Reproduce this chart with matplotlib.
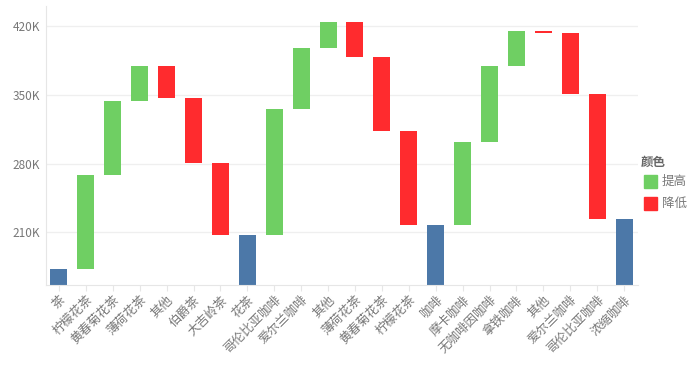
import numpy as np
import matplotlib.pyplot as plt
from matplotlib.patches import Rectangle

plt.rcParams['font.family'] = ['Noto Sans CJK SC', 'DejaVu Sans']

# categories (x axis) and values in K
categories = ['茶', '柠檬花茶', '黄春菊花茶', '薄荷花茶', '其他', '伯爵茶', '大吉岭茶',
              '花茶', '哥伦比亚咖啡', '爱尔兰咖啡', '其他', '薄荷花茶', '黄春菊花茶', '柠檬花茶',
              '咖啡', '摩卡咖啡', '无咖啡因咖啡', '拿铁咖啡', '其他', '爱尔兰咖啡', '哥伦比亚咖啡',
              '浓缩咖啡']
# change per step; totals carry their total value
amounts = [172.6, 95.8, 75.5, 35.7, -32.7, -66.2, -73.4,
           207.3, 128.4, 62.2, 26.5, -35.7, -75.4, -95.8,
           217.5, 84.6, 77.5, 35.6, -2.0, -62.2, -127.4,
           223.6]
is_total = [True, False, False, False, False, False, False,
            True, False, False, False, False, False, False,
            True, False, False, False, False, False, False,
            True]

c_total = '#4c78a8'
c_up = '#6fcf63'
c_down = '#ff2b2e'
gray_txt = '#777777'

fig = plt.figure(figsize=(7, 3.65), dpi=100)
ax = fig.add_axes([45.5 / 700, 80 / 365, 592 / 700, 279 / 365])

ymin, ymax = 156.3, 440.7
running = 0.0
for i, (a, tot) in enumerate(zip(amounts, is_total)):
    if tot:
        running = a
        ax.bar(i, running - ymin + 50, bottom=ymin - 50, width=0.63, color=c_total)
    else:
        start = running
        running = running + a
        col = c_up if a > 0 else c_down
        ax.bar(i, running - start, bottom=start, width=0.63, color=col)

ax.set_xlim(-0.5, len(categories) - 0.5)
ax.set_ylim(ymin, ymax)
ax.set_yticks([210, 280, 350, 420])
ax.set_yticklabels(['210K', '280K', '350K', '420K'])
ax.set_xticks(np.arange(len(categories)))
ax.set_xticklabels(categories, rotation=45, ha='right', rotation_mode='anchor')

ax.grid(axis='y', color='#efefef', linewidth=0.9)
ax.set_axisbelow(True)
for s in ['top', 'right']:
    ax.spines[s].set_visible(False)
ax.spines['left'].set_color('#e6e6e6')
ax.spines['bottom'].set_color('#e6e6e6')
ax.tick_params(axis='y', length=0, labelsize=8.5, labelcolor=gray_txt, pad=4)
ax.tick_params(axis='x', length=4, color='#e6e6e6', labelsize=9,
               labelcolor=gray_txt, pad=2)

# legend
fig.text(641 / 700, 1 - 162 / 365, '颜色', fontsize=9, color='#666666',
         fontweight='bold', va='center', ha='left')
for yy, col, lab in [(181, c_up, '提高'), (203, c_down, '降低')]:
    fig.patches.append(Rectangle((644 / 700, 1 - (yy + 6.5) / 365), 13 / 700, 13 / 365,
                                 transform=fig.transFigure, color=col, figure=fig))
    fig.text(662 / 700, 1 - yy / 365, lab, fontsize=9, color=gray_txt,
             va='center', ha='left')

fig.savefig('out.png', dpi=100)
